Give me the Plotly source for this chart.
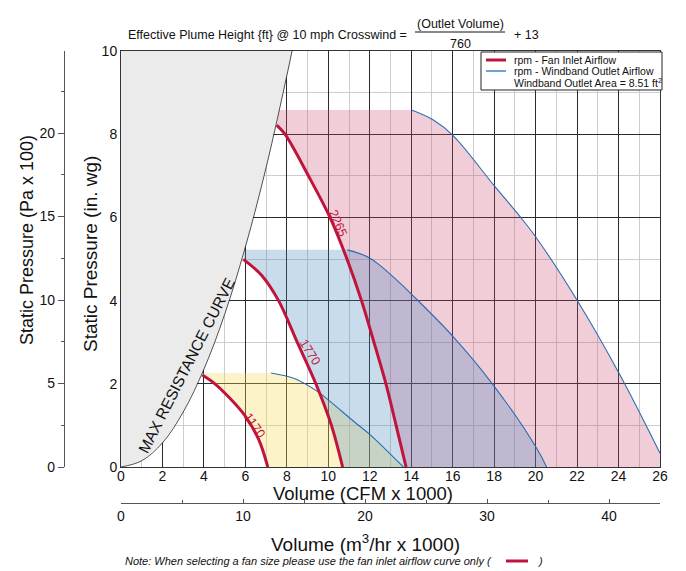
import numpy as np
import plotly.graph_objects as go

# ---------------- data ----------------
cfm_ticks = list(range(0, 27, 2))
inwg_ticks = list(range(0, 11, 2))
pa_ticks = [0, 5, 10, 15, 20]
m3_ticks = [0, 10, 20, 30, 40]

IN_WG_TO_PA100 = 2.491   # 1 in. wg = 249.1 Pa
CFM_TO_M3HR = 1.699      # 1 CFM = 1.699 m3/hr

max_res_x = [0, 1, 2, 3, 4, 5, 6, 7, 8, 8.25]
max_res_y = [0, 0.15, 0.58, 1.32, 2.35, 3.67, 5.29, 7.2, 9.41, 10]

rpm_names = ["1170", "1770", "2265"]

inlet_1170_x = [3.92, 4.53, 5.18, 6.0, 6.65, 7.08]
inlet_1170_y = [2.21, 2.0, 1.69, 1.22, 0.65, 0.0]
inlet_1770_x = [5.9, 6.8, 7.6, 8.5, 9.4, 10.15, 10.69]
inlet_1770_y = [4.99, 4.6, 4.0, 3.0, 2.0, 1.0, 0.0]
inlet_2265_x = [7.51, 7.91, 9.04, 10.08, 10.9, 11.6, 12.2, 12.78, 13.27, 13.75]
inlet_2265_y = [8.22, 8.0, 7.0, 6.0, 5.0, 4.0, 3.0, 2.0, 1.0, 0.0]

outlet_1170_x = [7.24, 8.39, 9.52, 10.1, 11.29, 12.01, 13.62]
outlet_1170_y = [2.26, 2.12, 1.8, 1.57, 1.07, 0.78, 0.0]
outlet_1770_x = [10.92, 12.01, 13.46, 14.02, 16.03, 17.96, 20.05, 20.53]
outlet_1770_y = [5.22, 5.02, 4.42, 4.15, 3.13, 1.97, 0.45, 0.0]
outlet_2265_x = [14.02, 15.07, 16.03, 18.04, 19.25, 20.05, 22.06, 24.07, 26.0]
outlet_2265_y = [8.58, 8.34, 7.96, 6.74, 6.02, 5.5, 3.96, 2.21, 0.33]

band_top_y = [2.26, 5.22, 8.58]

# ---------------- styling ----------------
FONT = "Liberation Sans, Arial, Helvetica, sans-serif"
RED = "#c0143c"
BLUE = "#2a6cb2"
FILLS = ["rgba(250,220,90,0.33)", "rgba(60,130,185,0.28)", "rgba(205,70,110,0.27)"]

# the page body has an 8px margin; the figure fills the rest of the 686x571 window
OFF = 8
W, H = 686 - OFF, 571 - OFF
ML, MR, MT, MB = 42, 26, 43, 20


def px(x):  # page pixel x -> paper
    return (x - OFF - ML) / (W - ML - MR)


def py(y):  # page pixel y -> paper
    return (H - MB - (y - OFF)) / (H - MT - MB)


inlets = [(inlet_1170_x, inlet_1170_y), (inlet_1770_x, inlet_1770_y), (inlet_2265_x, inlet_2265_y)]
outlets = [(outlet_1170_x, outlet_1170_y), (outlet_1770_x, outlet_1770_y), (outlet_2265_x, outlet_2265_y)]

fig = go.Figure()

# max resistance grey region
fig.add_trace(go.Scatter(
    x=max_res_x + [0], y=max_res_y + [10], mode="lines", fill="toself",
    fillcolor="#ebebeb", line=dict(width=0), hoverinfo="skip", showlegend=False))

# operating bands (between inlet and outlet curves)
for i in [0, 2, 1]:
    ix, iy = inlets[i]
    ox, oy = outlets[i]
    top = band_top_y[i]
    corner_x = float(np.interp(top, max_res_y, max_res_x))
    xs = [corner_x] + list(ox)
    ys = [top] + list(oy)
    if oy[-1] > 0:
        xs.append(ox[-1]); ys.append(0)
    xs += list(ix[::-1]) + [corner_x]
    ys += list(iy[::-1]) + [top]
    fig.add_trace(go.Scatter(x=xs, y=ys, mode="lines", fill="toself",
                             fillcolor=FILLS[i], line=dict(width=0),
                             hoverinfo="skip", showlegend=False))

# outlet curves
for ox, oy in outlets:
    fig.add_trace(go.Scatter(x=ox, y=oy, mode="lines",
                             line=dict(color=BLUE, width=1.1, shape="spline"),
                             showlegend=False))
# inlet curves
for ix, iy in inlets:
    fig.add_trace(go.Scatter(x=ix, y=iy, mode="lines",
                             line=dict(color=RED, width=3, shape="spline"),
                             showlegend=False))
# max resistance line
fig.add_trace(go.Scatter(x=max_res_x, y=max_res_y, mode="lines",
                         line=dict(color="#222", width=0.8, shape="spline"),
                         showlegend=False, hoverinfo="skip"))

# dummy trace to activate secondary axes
fig.add_trace(go.Scatter(x=[0], y=[0], xaxis="x2", yaxis="y2", mode="markers",
                         marker=dict(opacity=0), hoverinfo="skip", showlegend=False))

tickfont = dict(family=FONT, size=14, color="#111")

fig.update_layout(
    width=W, height=H,
    margin=dict(l=ML, r=MR, t=MT, b=MB),
    paper_bgcolor="white", plot_bgcolor="white",
    font=dict(family=FONT, color="#111"),
    showlegend=False,
    xaxis=dict(domain=[px(121), 1], range=[0, 26], tickvals=cfm_ticks,
               showgrid=True, gridcolor="#2b2b2b", gridwidth=1,
               minor=dict(dtick=1, showgrid=True, gridcolor="#cdcdcd", gridwidth=1.2),
               showline=True, mirror=True, linecolor="#333", linewidth=1,
               zeroline=False, ticks="", tickfont=tickfont, ticklabelstandoff=-4),
    yaxis=dict(domain=[py(467), 1], range=[0, 10], tickvals=inwg_ticks,
               showgrid=True, gridcolor="#2b2b2b", gridwidth=1,
               minor=dict(dtick=1, showgrid=True, gridcolor="#cdcdcd", gridwidth=1.2),
               showline=True, mirror=True, linecolor="#333", linewidth=1,
               zeroline=False, ticks="", tickfont=tickfont),
    yaxis2=dict(overlaying="y", anchor="free", position=px(64), side="left",
                range=[0, 10 * IN_WG_TO_PA100], tickvals=pa_ticks,
                ticks="outside", ticklen=6, tickcolor="#555",
                minor=dict(dtick=2.5, ticks="outside", ticklen=3, tickcolor="#555"),
                showline=True, linecolor="#555", linewidth=1.2,
                showgrid=False, zeroline=False, tickfont=tickfont),
    xaxis2=dict(overlaying="x", anchor="free", position=py(503), side="bottom",
                range=[0, 26 * CFM_TO_M3HR], tickvals=m3_ticks,
                ticks="inside", ticklen=4, tickcolor="#555",
                minor=dict(dtick=5, ticks="inside", ticklen=3, tickcolor="#555"),
                showline=True, linecolor="#555", linewidth=1.2,
                showgrid=False, zeroline=False, tickfont=tickfont),
)

ann = []
shapes = []


def pa(text, x, y, size, **kw):
    d = dict(text=text, x=px(x), y=py(y), xref="paper", yref="paper",
             showarrow=False, font=dict(family=FONT, size=size, color=kw.pop("color", "#111")),
             xanchor=kw.pop("xanchor", "center"), yanchor=kw.pop("yanchor", "middle"))
    d.update(kw)
    ann.append(d)


# title with fraction
pa("Effective Plume Height {ft} @ 10 mph Crosswind =", 126, 35, 12.5, xanchor="left")
pa("(Outlet Volume)", 460, 24, 12.5)
pa("760", 460, 44, 12.5)
pa("+ 13", 512, 35, 12.5, xanchor="left")
shapes.append(dict(type="line", xref="paper", yref="paper", x0=px(415), x1=px(505),
                   y0=py(32), y1=py(32), line=dict(color="#111", width=1)))

# axis titles
pa("Volume (CFM x 1000)", 363, 493, 18.5)
pa("Volume (m<sup>3</sup>/hr x 1000)", 365, 543, 19)
pa("Static Pressure (in. wg)", 90, 254, 19, textangle=-90)
pa("Static Pressure (Pa x 100)", 27, 240, 18, textangle=-90)

# note
pa("<i>Note: When selecting a fan size please use the fan inlet airflow curve only (</i>",
   123, 561, 11, xanchor="left")
pa("<i>)</i>", 535, 561, 11, xanchor="left")
shapes.append(dict(type="line", xref="paper", yref="paper", x0=px(506), x1=px(528),
                   y0=py(561), y1=py(561), line=dict(color=RED, width=3)))

# legend box
shapes.append(dict(type="rect", xref="paper", yref="paper", x0=px(481), x1=px(662),
                   y0=py(52), y1=py(90), line=dict(color="#222", width=1),
                   fillcolor="white", layer="above"))
shapes.append(dict(type="line", xref="paper", yref="paper", x0=px(486), x1=px(506),
                   y0=py(60), y1=py(60), line=dict(color=RED, width=3), layer="above"))
shapes.append(dict(type="line", xref="paper", yref="paper", x0=px(486), x1=px(506),
                   y0=py(71), y1=py(71), line=dict(color="#6fa3d0", width=2), layer="above"))
pa("rpm - Fan Inlet Airflow", 512, 60, 10.5, xanchor="left")
pa("rpm - Windband Outlet Airflow", 512, 71, 10.5, xanchor="left")
pa("Windband Outlet Area = 8.51 ft<sup>2</sup>", 512, 82, 10.5, xanchor="left")

# curve labels (data coordinates)
ann.append(dict(text="MAX RESISTANCE CURVE", x=3.15, y=2.45, xref="x", yref="y",
                showarrow=False, textangle=-63,
                font=dict(family=FONT, size=15.5, color="#111")))
label_pos = [(6.46, 0.99, 55), (9.1, 2.76, 58), (10.45, 5.86, 66)]
for name, (lx, ly, ang) in zip(rpm_names, label_pos):
    ann.append(dict(text=name, x=lx, y=ly, xref="x", yref="y", showarrow=False,
                    textangle=ang, font=dict(family=FONT, size=12.5, color=RED)))

fig.update_layout(annotations=ann, shapes=shapes)

fig.write_html("out.html")
